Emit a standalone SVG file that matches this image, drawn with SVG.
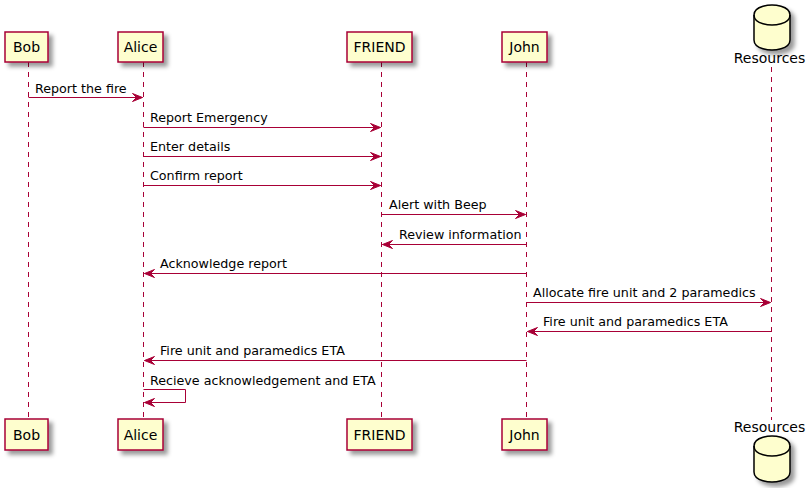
<svg xmlns="http://www.w3.org/2000/svg" width="812" height="488" viewBox="0 0 812 488">
<defs>
<filter id="sh" x="-1" y="-1" width="300%" height="300%">
<feGaussianBlur result="b" stdDeviation="2"/>
<feColorMatrix in="b" result="c" type="matrix" values="0 0 0 0 0 0 0 0 0 0 0 0 0 0 0 0 0 0 0.4 0"/>
<feOffset dx="4" dy="4" in="c" result="o"/>
<feBlend in="SourceGraphic" in2="o" mode="normal"/>
</filter>
<marker id="ar" viewBox="-1 -1 12 10" refX="10" refY="4" markerWidth="12" markerHeight="10" markerUnits="userSpaceOnUse" orient="auto">
<polygon points="0,0 10,4 0,8 4,4" fill="#A80036" stroke="#A80036" stroke-width="1"/>
</marker>
</defs>
<style>
.box{fill:#FEFECE;stroke:#A80036;stroke-width:1.5}
.db{fill:#FEFECE;stroke:#000000;stroke-width:1.5}
.life{stroke:#A80036;stroke-width:1;stroke-dasharray:5,5;fill:none}
.msg{stroke:#A80036;stroke-width:1;fill:none;marker-end:url(#ar)}
.pt{font-family:"DejaVu Sans",sans-serif;font-size:14px;fill:#000;text-anchor:middle}
.mt{font-family:"DejaVu Sans",sans-serif;font-size:12.7px;fill:#000}
</style>
<g id="lifelines">
<line class="life" x1="28.5" y1="62" x2="28.5" y2="419"/>
<line class="life" x1="143.5" y1="62" x2="143.5" y2="419"/>
<line class="life" x1="381.5" y1="62" x2="381.5" y2="419"/>
<line class="life" x1="526.5" y1="62" x2="526.5" y2="419"/>
<line class="life" x1="771.5" y1="67" x2="771.5" y2="420"/>
</g>
<g id="Bob">
<rect class="box" filter="url(#sh)" x="5" y="32" width="43" height="30"/>
<text class="pt" x="26.5" y="52">Bob</text>
<rect class="box" filter="url(#sh)" x="5" y="419" width="43" height="31"/>
<text class="pt" x="26.5" y="440">Bob</text>
</g>
<g id="Alice">
<rect class="box" filter="url(#sh)" x="118" y="32" width="45" height="30"/>
<text class="pt" x="140.5" y="52">Alice</text>
<rect class="box" filter="url(#sh)" x="118" y="419" width="45" height="31"/>
<text class="pt" x="140.5" y="440">Alice</text>
</g>
<g id="FRIEND">
<rect class="box" filter="url(#sh)" x="347" y="32" width="65" height="30"/>
<text class="pt" x="379.5" y="52">FRIEND</text>
<rect class="box" filter="url(#sh)" x="347" y="419" width="65" height="31"/>
<text class="pt" x="379.5" y="440">FRIEND</text>
</g>
<g id="John">
<rect class="box" filter="url(#sh)" x="502" y="32" width="45" height="30"/>
<text class="pt" x="524.5" y="52">John</text>
<rect class="box" filter="url(#sh)" x="502" y="419" width="45" height="31"/>
<text class="pt" x="524.5" y="440">John</text>
</g>
<g id="Resources">
<path class="db" filter="url(#sh)" d="M754,15 C754,5 772,5 772,5 C772,5 790,5 790,15 L790,40 C790,50 772,50 772,50 C772,50 754,50 754,40 Z"/>
<path class="db" style="fill:none" d="M754,15 C754,25 772,25 772,25 C772,25 790,25 790,15"/>
<text class="pt" x="769.5" y="63">Resources</text>
<text class="pt" x="769.5" y="432">Resources</text>
<path class="db" filter="url(#sh)" d="M754,446 C754,436 772,436 772,436 C772,436 790,436 790,446 L790,472 C790,482 772,482 772,482 C772,482 754,482 754,472 Z"/>
<path class="db" style="fill:none" d="M754,446 C754,456 772,456 772,456 C772,456 790,456 790,446"/>
</g>
<g id="connectors">
<line class="msg" x1="28.5" y1="97.5" x2="142.5" y2="97.5"/>
<text class="mt" x="35" y="93">Report the fire</text>
<line class="msg" x1="143.5" y1="127.5" x2="380.5" y2="127.5"/>
<text class="mt" x="150" y="122">Report Emergency</text>
<line class="msg" x1="143.5" y1="156.5" x2="380.5" y2="156.5"/>
<text class="mt" x="150" y="151">Enter details</text>
<line class="msg" x1="143.5" y1="185.5" x2="380.5" y2="185.5"/>
<text class="mt" x="150" y="180">Confirm report</text>
<line class="msg" x1="381.5" y1="214.5" x2="525.5" y2="214.5"/>
<text class="mt" x="389" y="209">Alert with Beep</text>
<line class="msg" x1="526.5" y1="244.5" x2="382.5" y2="244.5"/>
<text class="mt" x="399" y="239">Review information</text>
<line class="msg" x1="526.5" y1="273.5" x2="144.5" y2="273.5"/>
<text class="mt" x="160" y="268">Acknowledge report</text>
<line class="msg" x1="526.5" y1="302.5" x2="770.5" y2="302.5"/>
<text class="mt" x="533" y="297">Allocate fire unit and 2 paramedics</text>
<line class="msg" x1="771.5" y1="331.5" x2="527.5" y2="331.5"/>
<text class="mt" x="543" y="326">Fire unit and paramedics ETA</text>
<line class="msg" x1="526.5" y1="360.5" x2="144.5" y2="360.5"/>
<text class="mt" x="160" y="355">Fire unit and paramedics ETA</text>
<polyline class="msg" points="143.5,389.5 185.5,389.5 185.5,402.5 144.5,402.5"/>
<text class="mt" x="150" y="385">Recieve acknowledgement and ETA</text>
</g>
</svg>
